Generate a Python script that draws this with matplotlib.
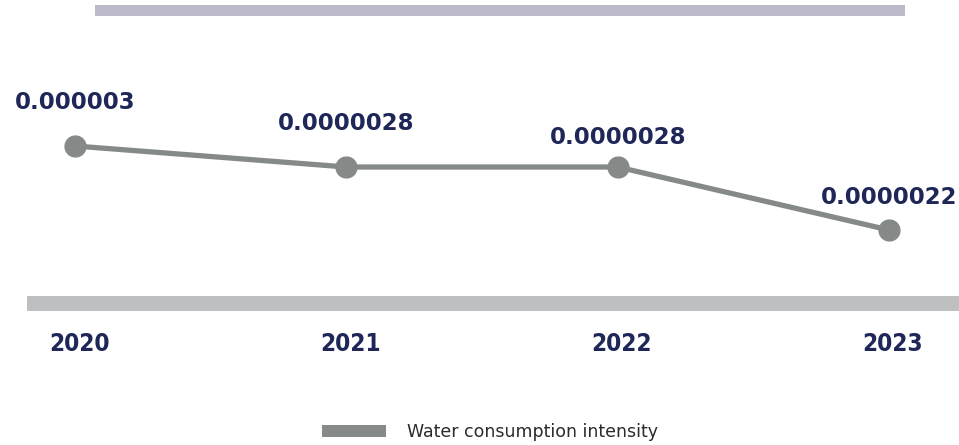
import matplotlib
matplotlib.use("Agg")
import matplotlib.pyplot as plt
from matplotlib.patches import Rectangle, Patch

# Data
years = ["2020", "2021", "2022", "2023"]
intensity = [0.000003, 0.0000028, 0.0000028, 0.0000022]
value_labels = ["0.000003", "0.0000028", "0.0000028", "0.0000022"]
series_name = "Water consumption intensity"

# Styling
LINE_GREY = "#858a89"
NAVY = "#1e2757"
LAVENDER = "#bcbacb"
BASE_GREY = "#bebfc1"

W, H = 959, 445
fig = plt.figure(figsize=(W / 100, H / 100), dpi=100)
ax = fig.add_axes([0, 0, 1, 1])
ax.set_axis_off()

x = list(range(len(years)))
step = 271.3  # pixels between categories
ax.set_xlim(-75 / step, 3 + (W - 889) / step)
# vertical scale: 1e-6 per 105 px, 3.0e-6 sits at 146 px from top
ppu = 105.0
ax.set_ylim((3.0 - (H - 146) / ppu) * 1e-6, (3.0 + 146 / ppu) * 1e-6)

ax.plot(x, intensity, color=LINE_GREY, lw=3.8, marker="o", ms=15,
        markerfacecolor=LINE_GREY, markeredgecolor=LINE_GREY,
        solid_capstyle="round", zorder=3)

# value labels above each point (offsets in pixels)
offsets = [44, 44, 30, 33]
for xi, yi, txt, off in zip(x, intensity, value_labels, offsets):
    ax.annotate(txt, (xi, yi), xytext=(0, off * 0.72), textcoords="offset points",
                ha="center", va="center", fontsize=16.5, fontweight="bold",
                color=NAVY, family="DejaVu Sans", annotation_clip=False)

# decorative bars
fig.add_artist(Rectangle((95 / W, 1 - 16 / H), (905 - 95) / W, 11 / H,
                         transform=fig.transFigure, color=LAVENDER, lw=0))
fig.add_artist(Rectangle((27 / W, 1 - 311 / H), (W - 27) / W, 15 / H,
                         transform=fig.transFigure, color=BASE_GREY, lw=0))

# year labels under the baseline
for xi, yr in zip(x, years):
    ax.text(xi + 4 / step, 1 - 344 / H, yr, transform=ax.get_xaxis_transform(),
            ha="center", va="center", fontsize=17.5, fontweight="bold",
            color=NAVY, family="DejaVu Sans", fontstretch="condensed")

fig.legend(handles=[Patch(facecolor=LINE_GREY, edgecolor="none", label=series_name)],
           loc="center", bbox_to_anchor=(490 / W, 1 - 432 / H),
           frameon=False, fontsize=12.5, handlelength=3.7, handleheight=0.7,
           handletextpad=1.25, labelcolor="#2b2b2b")

fig.savefig("out.png", dpi=100)
